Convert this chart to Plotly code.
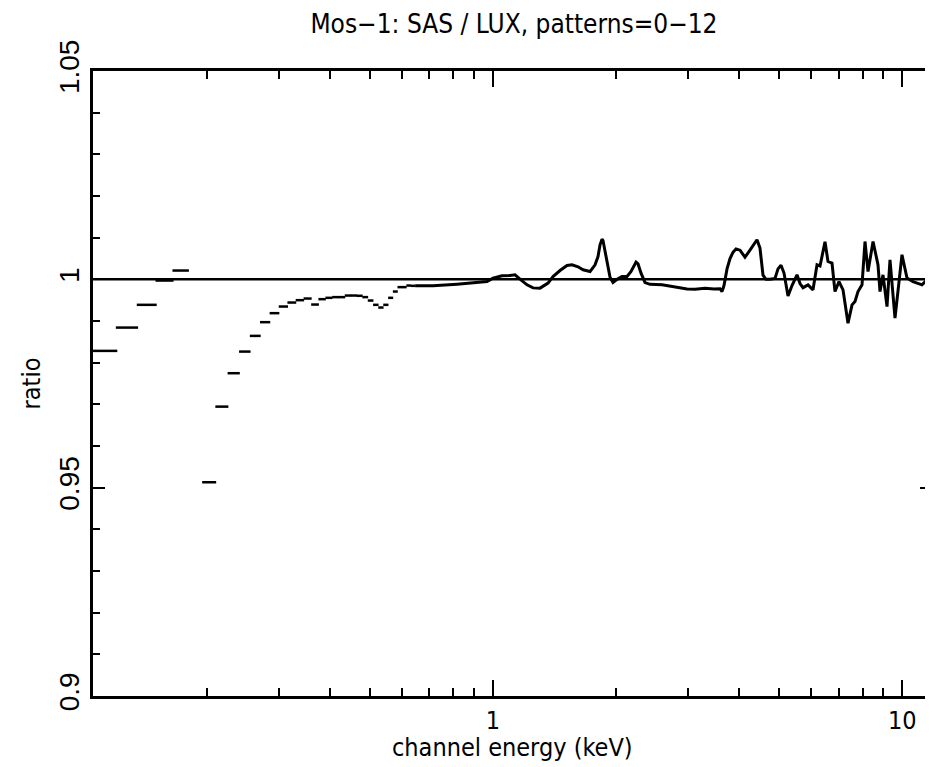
import plotly.graph_objects as go

# ---- data -------------------------------------------------------------
# low-energy channels (drawn as horizontal bin bars)
chan_lo = [0.105, 0.120, 0.135, 0.150, 0.165,
           0.195, 0.210, 0.225, 0.240, 0.255, 0.270, 0.285, 0.300, 0.315,
           0.330, 0.345, 0.360, 0.375, 0.390, 0.405, 0.420, 0.435, 0.450,
           0.465, 0.480, 0.495, 0.510, 0.525, 0.540, 0.555, 0.570, 0.585,
           0.600, 0.615, 0.630]
chan_hi = [0.121, 0.136, 0.151, 0.166, 0.181,
           0.211, 0.226, 0.241, 0.256, 0.271, 0.286, 0.301, 0.316, 0.331,
           0.346, 0.361, 0.376, 0.391, 0.406, 0.421, 0.436, 0.451, 0.466,
           0.481, 0.496, 0.511, 0.526, 0.541, 0.556, 0.571, 0.586, 0.601,
           0.616, 0.631, 0.646]
chan_ratio = [0.98283, 0.98842, 0.99388, 0.99971, 1.00211,
              0.95130, 0.96945, 0.97747, 0.98266, 0.98643, 0.98972, 0.99188,
              0.99347, 0.99443, 0.99500, 0.99539, 0.99395, 0.99524, 0.99556,
              0.99573, 0.99573, 0.99611, 0.99611, 0.99605, 0.99573, 0.99491,
              0.99388, 0.99323, 0.99388, 0.99556, 0.99707, 0.99813, 0.99813,
              0.99851, 0.99844]

# higher-energy channels (dense, drawn as a curve)
energy = [0.646, 0.6565, 0.7143, 0.8177, 0.9410, 0.9679, 1.0011, 1.0531,
          1.1016, 1.1330, 1.1654, 1.2121, 1.2538, 1.3042, 1.3642, 1.4031,
          1.4594, 1.5180, 1.5614, 1.6150, 1.6612, 1.7279, 1.7772, 1.8072,
          1.8277, 1.8482, 1.8586, 1.8796, 1.9009, 1.9334, 1.9661, 2.0112,
          2.0686, 2.1276, 2.1760, 2.2381, 2.2634, 2.3017, 2.3542, 2.4210,
          2.5902, 2.7094, 2.8340, 2.9812, 3.1182, 3.2985, 3.4697, 3.5892,
          3.6293, 3.6705, 3.7335, 3.7969, 3.8614, 3.9270, 4.0167, 4.1305,
          4.2481, 4.3451, 4.4188, 4.4938, 4.5709, 4.6484, 4.7545, 4.8902,
          4.9731, 5.0582, 5.1441, 5.2614, 5.3808, 5.5341, 5.6292, 5.7246,
          5.8878, 6.0555, 6.1937, 6.2988, 6.4782, 6.5880, 6.7383, 6.8526,
          7.0089, 7.1690, 7.3731, 7.5413, 7.6692, 7.7993, 7.9774, 8.1129,
          8.2506, 8.4877, 8.7278, 8.8269, 8.9766, 9.1815, 9.3372, 9.6033,
          9.9885, 10.273, 10.626, 11.178, 11.496, 11.823]
ratio = [0.99844, 0.99844, 0.99844, 0.99885, 0.99923, 0.99947, 1.00029, 1.00084,
         1.00095, 1.00108, 1.00005, 0.99868, 0.99795, 0.99789, 0.99909, 1.00067,
         1.00211, 1.00331, 1.00348, 1.00300, 1.00228, 1.00187, 1.00348, 1.00548,
         1.00829, 1.00961, 1.00930, 1.00668, 1.00396, 1.00050, 0.99923, 1.00000,
         1.00067, 1.00067, 1.00187, 1.00413, 1.00370, 1.00149, 0.99923, 0.99880,
         0.99868, 0.99840, 0.99803, 0.99770, 0.99765, 0.99785, 0.99770, 0.99775,
         0.99707, 0.99850, 1.00250, 1.00500, 1.00650, 1.00730, 1.00700, 1.00530,
         1.00700, 1.00860, 1.00950, 1.00750, 1.00100, 1.00000, 1.00000, 1.00020,
         1.00250, 1.00340, 1.00150, 0.99600, 0.99850, 1.00108, 0.99900, 0.99800,
         0.99868, 0.99748, 1.00348, 1.00320, 1.00900, 1.00427, 1.00389, 0.99707,
         0.99947, 0.99748, 0.98948, 0.99388, 0.99470, 0.99707, 0.99870, 1.00908,
         1.00187, 1.00908, 1.00348, 0.99707, 1.00108, 0.99347, 1.00468, 0.99068,
         1.00590, 1.00029, 0.99947, 0.99868, 0.99988, 1.00348]

reference_level = 1.0

x_major = [1, 10]
x_major_text = ["1", "10"]
x_minor = [0.2, 0.3, 0.4, 0.5, 0.6, 0.7, 0.8, 0.9, 2, 3, 4, 5, 6, 7, 8, 9]
y_major = [0.9, 0.95, 1.0, 1.05]
y_major_text = ["0.9", "0.95", "1", "1.05"]
y_minor = [0.91, 0.92, 0.93, 0.94, 0.96, 0.97, 0.98, 0.99,
           1.01, 1.02, 1.03, 1.04]

title_text = "Mos\u22121: SAS / LUX, patterns=0\u221212"
x_title = "channel energy (keV)"
y_title = "ratio"

# ---- figure -----------------------------------------------------------
NARROW = "DejaVu Sans Condensed, sans-serif"
SANS = "Liberation Sans, Arial, sans-serif"

bx, by = [], []
for lo, hi, r in zip(chan_lo, chan_hi, chan_ratio):
    bx += [lo, hi, None]
    by += [r, r, None]

fig = go.Figure()
fig.add_trace(go.Scatter(x=bx, y=by, mode="lines",
                         line=dict(color="black", width=2.5),
                         hoverinfo="skip", showlegend=False))
fig.add_trace(go.Scatter(x=energy, y=ratio, mode="lines",
                         line=dict(color="black", width=3),
                         showlegend=False))
fig.add_shape(type="line", xref="paper", x0=0, x1=1, yref="y",
              y0=reference_level, y1=reference_level,
              line=dict(color="black", width=2.5))

# x-axis title placed as an annotation below the tick labels
fig.add_annotation(text=x_title, xref="paper", yref="paper",
                   x=0.5, y=-0.082, xanchor="center", yanchor="middle",
                   showarrow=False,
                   font=dict(family=NARROW, size=25, color="black"))

# the page body has an 8px margin, so the figure is sized to fit the window
fig.update_layout(
    width=925, height=759,
    margin=dict(l=85, r=1, t=63, b=71, autoexpand=False),
    paper_bgcolor="white", plot_bgcolor="white",
    title=dict(text=title_text, x=0.547, xanchor="center",
               y=0.979, yanchor="middle", automargin=False,
               font=dict(family=NARROW, size=26, color="black")),
    showlegend=False,
)
fig.update_xaxes(
    type="log", range=[-0.9766, 1.0728], automargin=False,
    showgrid=False, zeroline=False,
    showline=True, linecolor="black", linewidth=3, mirror="allticks",
    ticks="inside", ticklen=16, tickwidth=2, tickcolor="black",
    tickvals=x_major, ticktext=x_major_text,
    tickfont=dict(family=NARROW, size=25, color="black"),
    minor=dict(tickvals=x_minor, ticks="inside", ticklen=8, tickwidth=2,
               tickcolor="black", showgrid=False),
)
fig.update_yaxes(
    range=[0.9, 1.05], automargin=False,
    showgrid=False, zeroline=False,
    showline=True, linecolor="black", linewidth=3, mirror="allticks",
    ticks="inside", ticklen=12, tickwidth=2, tickcolor="black",
    tickvals=y_major, ticktext=y_major_text, tickangle=-90,
    ticklabelstandoff=0,
    tickfont=dict(family=SANS, size=28, color="black"),
    minor=dict(tickvals=y_minor, ticks="inside", ticklen=7, tickwidth=2,
               tickcolor="black", showgrid=False),
    title=dict(text=y_title, standoff=7,
               font=dict(family=NARROW, size=25, color="black")),
)

fig.write_html("out.html")
